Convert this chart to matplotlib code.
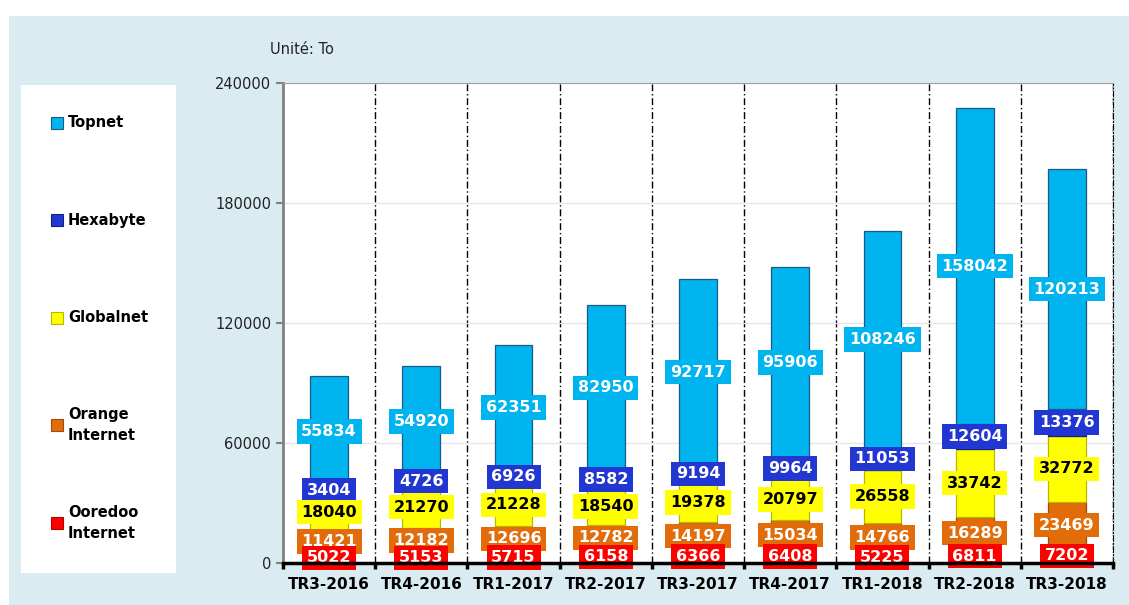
import numpy as np
import matplotlib.pyplot as plt
from matplotlib.patches import Rectangle

quarters = ['TR3-2016', 'TR4-2016', 'TR1-2017', 'TR2-2017', 'TR3-2017',
            'TR4-2017', 'TR1-2018', 'TR2-2018', 'TR3-2018']
ooredoo   = [5022, 5153, 5715, 6158, 6366, 6408, 5225, 6811, 7202]
orange    = [11421, 12182, 12696, 12782, 14197, 15034, 14766, 16289, 23469]
globalnet = [18040, 21270, 21228, 18540, 19378, 20797, 26558, 33742, 32772]
hexabyte  = [3404, 4726, 6926, 8582, 9194, 9964, 11053, 12604, 13376]
topnet    = [55834, 54920, 62351, 82950, 92717, 95906, 108246, 158042, 120213]

series = [
    ('Ooredoo\nInternet', ooredoo,   '#FF0000', '#B00000', 'white'),
    ('Orange\nInternet',  orange,    '#E36C0A', '#A04A05', 'white'),
    ('Globalnet',         globalnet, '#FFFF00', '#B8B800', 'black'),
    ('Hexabyte',          hexabyte,  '#2236D2', '#14208A', 'white'),
    ('Topnet',            topnet,    '#00B4F0', '#1A5A8A', 'white'),
]

fig = plt.figure(figsize=(11.29, 6.05), dpi=100)
fig.patches.append(Rectangle((9/1129, 0), 1, (605-16)/605, transform=fig.transFigure,
                             facecolor='#DAECF2', edgecolor='none', zorder=-2))
# legend panel
fig.patches.append(Rectangle((21/1129, (605-573)/605), 155/1129, 488/605,
                             transform=fig.transFigure, facecolor='white',
                             edgecolor='none', zorder=-1))

ax = fig.add_axes([283/1129, (605-563)/605, 830/1129, 480/605])
ax.set_facecolor('white')

x = np.arange(len(quarters))
width = 0.41
bottom = np.zeros(len(quarters))
for i, (name, vals, col, edge, tcol) in enumerate(series):
    vals = np.array(vals, dtype=float)
    ax.bar(x, vals, width, bottom=bottom, color=col, edgecolor=edge,
           linewidth=0.9, zorder=3)
    # lower series labels sit on top of the ones above them
    for xi, b, v in zip(x, bottom, vals):
        ax.text(xi, b + v / 2, f'{int(v)}', ha='center', va='center',
                color=tcol, fontsize=11.5, fontweight='bold', zorder=10 - i,
                bbox=dict(boxstyle='square,pad=0.3', fc=col, ec='none'))
    bottom += vals

ax.set_xlim(-0.5, len(quarters) - 0.5)
ax.set_ylim(0, 240000)
ax.set_yticks(np.arange(0, 240001, 60000))
ax.yaxis.grid(True, color='#E6E6E6', linewidth=1, zorder=0)
ax.tick_params(axis='y', labelsize=10.5, colors='#808080', labelcolor='#222222',
               length=5, width=1.5)
ax.set_xticks(x)
ax.set_xticklabels(quarters, fontsize=11, fontweight='bold')
ax.tick_params(axis='x', which='major', length=0, pad=10)
ax.set_xticks(np.arange(-0.5, len(quarters)), minor=True)
ax.tick_params(axis='x', which='minor', length=4, width=2.5, color='black')

for b in np.arange(0.5, len(quarters)):
    ax.axvline(b, color='black', linestyle=(0, (5, 2, 1, 2)), linewidth=1, zorder=1)

ax.spines['bottom'].set_color('black')
ax.spines['bottom'].set_linewidth(2.5)
ax.spines['bottom'].set_zorder(12)
ax.spines['left'].set_color('#808080')
ax.spines['left'].set_linewidth(2)
ax.spines['top'].set_color('#A0A0A0')
ax.spines['right'].set_color('black')
ax.spines['right'].set_linestyle((0, (5, 2, 1, 2)))

fig.text(270/1129, 1 - 50/605, 'Unité: To', fontsize=10.5, va='center', color='#222222')

# legend entries
legend_y = [123, 220, 318, 425, 523]
for (name, vals, col, edge, tcol), yy in zip(series[::-1], legend_y):
    fy = 1 - yy / 605
    fig.patches.append(Rectangle((51/1129, fy - 6/605), 12/1129, 12/605,
                                 transform=fig.transFigure, facecolor=col,
                                 edgecolor=edge, linewidth=0.8, zorder=2))
    fig.text(68/1129, fy, name, fontsize=10.5, fontweight='bold', va='center',
             ha='left', linespacing=1.5, zorder=3)

fig.savefig('out.png', dpi=100)
